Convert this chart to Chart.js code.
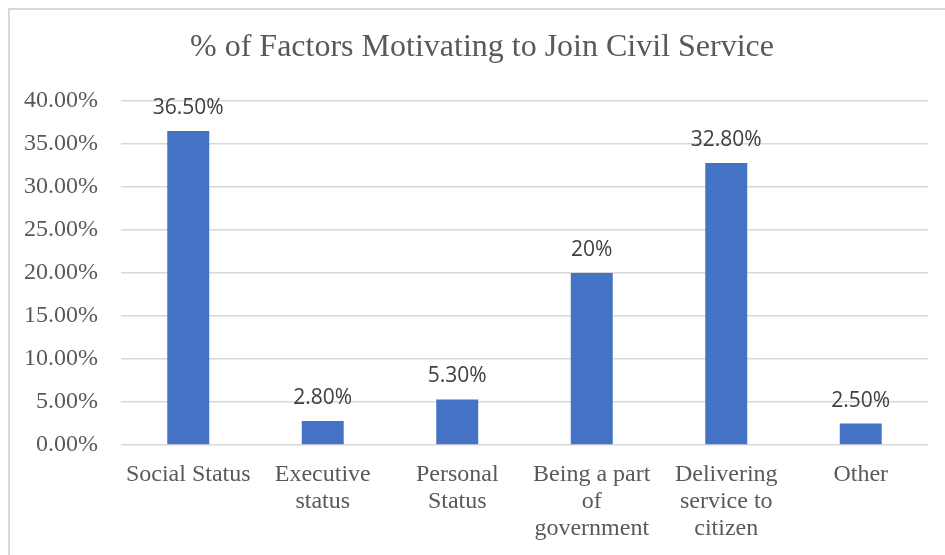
<!DOCTYPE html>
<html>
<head>
<meta charset="utf-8">
<script src="https://cdn.jsdelivr.net/npm/chart.js@4.4.1/dist/chart.umd.min.js"></script>
<style>
    html, body { margin: 0; padding: 0; background: #fff; }
    #wrap { position: relative; width: 945px; height: 555px; }
</style>
</head>
<body>
<div id="wrap"><canvas id="factors"></canvas></div>
<script>
const categories = [
    ['Social Status'],
    ['Executive', 'status'],
    ['Personal', 'Status'],
    ['Being a part', 'of', 'government'],
    ['Delivering', 'service to', 'citizen'],
    ['Other']
];
const percentValues = [36.5, 2.8, 5.3, 20, 32.8, 2.5];
const yTicks = [0, 5, 10, 15, 20, 25, 30, 35, 40];

const chartTitle = '% of Factors Motivating to Join Civil Service';
const textGrey = '#595959';
const serif = '"Liberation Serif", "Times New Roman", serif';

const fmtValue = (v) => Number.isInteger(v) ? `${v}%` : `${v.toFixed(2)}%`;

// outer frame, title and value labels over the bars
const decorations = {
    id: 'decorations',
    beforeDraw(chart) {
        const ctx = chart.ctx;
        ctx.save();
        ctx.fillStyle = '#ffffff';
        ctx.fillRect(0, 0, chart.width, chart.height);
        ctx.strokeStyle = '#d9d9d9';
        ctx.lineWidth = 2;
        ctx.beginPath();
        ctx.moveTo(9, chart.height);
        ctx.lineTo(9, 9);
        ctx.lineTo(chart.width, 9);
        ctx.stroke();
        ctx.restore();
    },
    afterDraw(chart) {
        const ctx = chart.ctx;
        ctx.save();
        ctx.fillStyle = textGrey;
        ctx.font = `32px ${serif}`;
        ctx.textAlign = 'center';
        ctx.textBaseline = 'middle';
        ctx.fillText(chartTitle, 482, 48);

        ctx.fillStyle = '#404040';
        ctx.font = '21px "Open Sans", sans-serif';
        ctx.textBaseline = 'alphabetic';
        const meta = chart.getDatasetMeta(0);
        meta.data.forEach((bar, i) => {
            ctx.fillText(fmtValue(percentValues[i]), bar.x, bar.y - 17);
        });
        ctx.restore();
    }
};

const ele = document.getElementById('factors');
new Chart(ele.getContext('2d'), {
    type: 'bar',
    data: {
        labels: categories,
        datasets: [{
            data: percentValues,
            backgroundColor: '#4472c4',
            borderWidth: 0,
            categoryPercentage: 1,
            barPercentage: 0.312
        }]
    },
    options: {
        responsive: true,
        maintainAspectRatio: false,
        animation: false,
        devicePixelRatio: 1,
        layout: {
            padding: { top: 101, right: 17, left: 0, bottom: 0 }
        },
        plugins: {
            legend: { display: false },
            title: { display: false },
            tooltip: { enabled: false }
        },
        scales: {
            x: {
                grid: { display: false, drawTicks: false },
                border: { display: false },
                ticks: {
                    color: textGrey,
                    padding: 16,
                    maxRotation: 0,
                    autoSkip: false,
                    font: { family: serif, size: 24, lineHeight: 1.125 }
                },
                afterFit: (scale) => { scale.height = 110; }
            },
            y: {
                min: 0,
                max: 40,
                afterBuildTicks: (scale) => {
                    scale.ticks = yTicks.map(v => ({ value: v }));
                },
                grid: {
                    color: '#d9d9d9',
                    lineWidth: 1.5,
                    drawTicks: false
                },
                border: { display: false },
                ticks: {
                    color: textGrey,
                    padding: 23,
                    font: { family: serif, size: 24 },
                    callback: (value) => `${value.toFixed(2)}%`
                },
                afterFit: (scale) => { scale.width = 121; }
            }
        }
    },
    plugins: [decorations]
});
</script>
</body>
</html>
